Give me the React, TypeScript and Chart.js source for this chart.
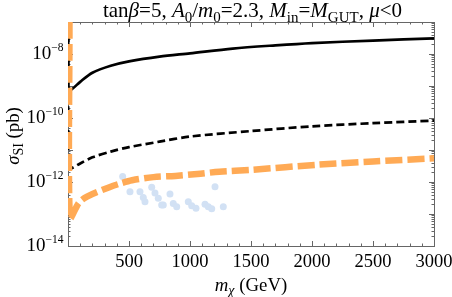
import React, { useEffect, useRef } from "react";
import { Chart, registerables } from "chart.js";

Chart.register(...registerables);

// ---- data (mass in GeV, cross-section in pb) ----
const solidMass = [2, 2, 30, 100, 200, 350, 500, 750, 1000, 1350, 1700, 2000, 2500, 3000];
const solidSigma = [1e-7, 7.9e-10, 7.9e-10, 1.35e-9, 2.6e-9, 4.3e-9, 5.9e-9, 8.3e-9, 1.05e-8, 1.48e-8, 1.86e-8, 2.19e-8, 2.63e-8, 3.09e-8];

const dashedMass = [2, 2, 30, 100, 200, 350, 500, 750, 1000, 1500, 2000, 2500, 3000];
const dashedSigma = [1e-7, 2.7e-12, 2.7e-12, 3.8e-12, 5.9e-12, 8.9e-12, 1.23e-11, 1.82e-11, 2.63e-11, 3.9e-11, 5.5e-11, 6.9e-11, 8.3e-11];

const orangeMass = [12, 14, 88, 156, 340, 430, 525, 700, 880, 1060, 1240, 1500, 2060, 2500, 3000];
const orangeSigma = [1e-7, 7.4e-14, 2.2e-13, 3.5e-13, 6.9e-13, 9.0e-13, 1.13e-12, 1.42e-12, 1.55e-12, 1.78e-12, 2.1e-12, 2.4e-12, 3.5e-12, 4.4e-12, 5.5e-12];

const dotMass = [448, 508, 590, 617, 631, 686, 713, 740, 768, 781, 836, 863, 891, 986, 1014, 1049, 1123, 1150, 1178, 1205, 1273];
const dotSigma = [1.48e-12, 5.0e-13, 5.0e-13, 3.3e-13, 2.4e-13, 6.8e-13, 4.5e-13, 3.1e-13, 1.9e-13, 1.9e-13, 4.2e-13, 2.14e-13, 1.7e-13, 2.4e-13, 1.82e-13, 1.51e-13, 2.0e-13, 1.7e-13, 1.45e-13, 7.1e-13, 1.7e-13];

const xTickValues = [500, 1000, 1500, 2000, 2500, 3000];
const xTickLabels = ["500", "1000", "1500", "2000", "2500", "3000"];
const yTickValues = [1e-14, 1e-12, 1e-10, 1e-8];
const yTickExponents = ["\u221214", "\u221212", "\u221210", "\u22128"];

const FONT = '"Liberation Serif", "Times New Roman", serif';

type Seg = { t: string; it?: boolean; sub?: boolean; sup?: boolean };

const titleSegs: Seg[] = [
  { t: "tan" }, { t: "\u03b2", it: true }, { t: "=5, " },
  { t: "A", it: true }, { t: "0", sub: true }, { t: "/" },
  { t: "m", it: true }, { t: "0", sub: true }, { t: "=2.3, " },
  { t: "M", it: true }, { t: "in", sub: true }, { t: "=" },
  { t: "M", it: true }, { t: "GUT", sub: true }, { t: ", " },
  { t: "\u03bc", it: true }, { t: "<0" },
];
const yTitleSegs: Seg[] = [{ t: "\u03c3", it: true }, { t: "SI", sub: true }, { t: " (pb)" }];
const xTitleSegs: Seg[] = [{ t: "m", it: true }, { t: "\u03c7", it: true, sub: true }, { t: " (GeV)" }];

function segFont(s: Seg, size: number) {
  const sz = s.sub || s.sup ? Math.round(size * 0.72) : size;
  return `${s.it ? "italic " : ""}${sz}px ${FONT}`;
}

function drawRich(ctx: CanvasRenderingContext2D, segs: Seg[], x: number, y: number, align: "left" | "center" | "right", size: number) {
  ctx.textAlign = "left";
  ctx.textBaseline = "alphabetic";
  let w = 0;
  for (const s of segs) {
    ctx.font = segFont(s, size);
    w += ctx.measureText(s.t).width;
  }
  let cx = align === "left" ? x : align === "center" ? x - w / 2 : x - w;
  for (const s of segs) {
    ctx.font = segFont(s, size);
    const dy = s.sub ? size * 0.26 : s.sup ? -size * 0.42 : 0;
    ctx.fillText(s.t, cx, y + dy);
    cx += ctx.measureText(s.t).width;
  }
}

const framePlugin = {
  id: "framePlugin",
  beforeDatasetsDraw(chart: any) {
    const { ctx, chartArea: a, scales } = chart;
    const xs = scales.x, ys = scales.y;
    ctx.save();
    ctx.strokeStyle = "#666";
    ctx.lineWidth = 1;
    ctx.beginPath();
    for (let v = 0; v <= 3000; v += 100) {
      const px = Math.round(xs.getPixelForValue(v)) + 0.5;
      const len = v % 500 === 0 ? 5 : 2.5;
      ctx.moveTo(px, a.bottom); ctx.lineTo(px, a.bottom - len);
      ctx.moveTo(px, a.top); ctx.lineTo(px, a.top + len);
    }
    for (let d = -14; d < -7; d++) {
      for (let k = 1; k <= 9; k++) {
        const v = k * Math.pow(10, d);
        const py = Math.round(ys.getPixelForValue(v)) + 0.5;
        const len = k === 1 ? 5 : 2.5;
        ctx.moveTo(a.left, py); ctx.lineTo(a.left + len, py);
        ctx.moveTo(a.right, py); ctx.lineTo(a.right - len, py);
      }
    }
    ctx.stroke();
    ctx.strokeRect(Math.round(a.left) + 0.5, Math.round(a.top) + 0.5, Math.round(a.right - a.left), Math.round(a.bottom - a.top));
    ctx.restore();
  },
  afterDraw(chart: any) {
    const { ctx, chartArea: a, scales } = chart;
    const xs = scales.x, ys = scales.y;
    ctx.save();
    ctx.fillStyle = "#000";
    xTickValues.forEach((v, i) => {
      drawRich(ctx, [{ t: xTickLabels[i] }], xs.getPixelForValue(v), a.bottom + 20.5, "center", 18.5);
    });
    yTickValues.forEach((v, i) => {
      const py = ys.getPixelForValue(v);
      const right = a.left - 4.5;
      ctx.font = `11.5px ${FONT}`;
      ctx.textAlign = "right";
      ctx.textBaseline = "alphabetic";
      ctx.fillText(yTickExponents[i], right, py - 3);
      const ew = ctx.measureText(yTickExponents[i]).width;
      ctx.font = `19px ${FONT}`;
      ctx.fillText("10", right - ew, py + 5);
    });
    drawRich(ctx, titleSegs, (a.left + a.right) / 2 + 1.5, 16.5, "center", 21);
    drawRich(ctx, xTitleSegs, (a.left + a.right) / 2, 290.5, "center", 18.8);
    ctx.translate(18.5, (a.top + a.bottom) / 2 + 2);
    ctx.rotate(-Math.PI / 2);
    drawRich(ctx, yTitleSegs, 0, 0, "center", 18.8);
    ctx.restore();
  },
};

function pts(xs: number[], ys: number[]) {
  return xs.map((x, i) => ({ x, y: ys[i] }));
}

export default function App() {
  const ref = useRef<HTMLCanvasElement>(null);
  useEffect(() => {
    if (!ref.current) return;
    const chart = new Chart(ref.current, {
      type: "scatter",
      data: {
        datasets: [
          {
            label: "points",
            data: pts(dotMass, dotSigma),
            showLine: false,
            pointRadius: 3.5,
            pointBorderWidth: 0,
            pointBackgroundColor: "rgb(210,225,244)",
            order: 4,
          },
          {
            label: "solid",
            data: pts(solidMass, solidSigma),
            showLine: true,
            borderColor: "#000",
            borderWidth: 2.7,
            pointRadius: 0,
            tension: 0.3,
            order: 3,
          },
          {
            label: "dashed",
            data: pts(dashedMass, dashedSigma),
            showLine: true,
            borderColor: "#000",
            borderWidth: 2.7,
            borderDash: [8, 4],
            pointRadius: 0,
            tension: 0.3,
            order: 2,
          },
          {
            label: "orange",
            data: pts(orangeMass, orangeSigma),
            showLine: true,
            borderColor: "rgb(255,170,85)",
            borderWidth: 6.5,
            borderDash: [17, 5],
            pointRadius: 0,
            tension: 0.3,
            order: 1,
          },
        ] as any,
      },
      options: {
        responsive: false,
        maintainAspectRatio: false,
        animation: false,
        events: [],
        layout: { padding: { left: 68, right: 18, top: 22, bottom: 51 } },
        scales: {
          x: { type: "linear", min: 0, max: 3000, display: false },
          y: { type: "logarithmic", min: 1e-14, max: 1e-7, display: false },
        },
        plugins: {
          legend: { display: false },
          title: { display: false },
          tooltip: { enabled: false },
        },
      },
      plugins: [framePlugin],
    });
    return () => chart.destroy();
  }, []);
  return (
    <div style={{ position: "fixed", left: 0, top: 0, width: 452, height: 297, background: "#fff" }}>
      <canvas ref={ref} width={452} height={297} style={{ display: "block", width: 452, height: 297 }} />
    </div>
  );
}
